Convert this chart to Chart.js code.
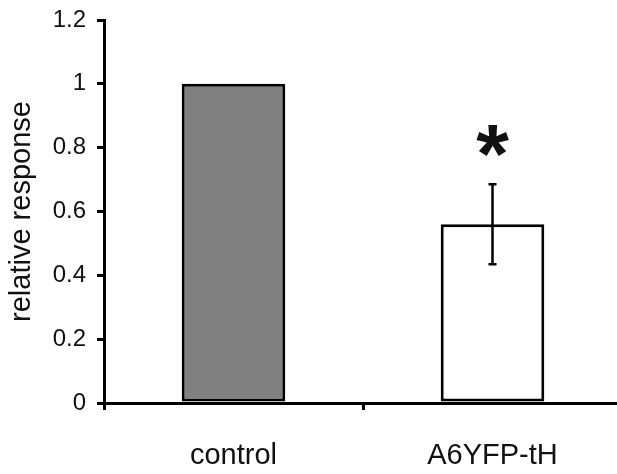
<!DOCTYPE html>
<html>
<head>
    <script src="https://cdn.jsdelivr.net/npm/chart.js@4.4.1/dist/chart.umd.min.js"></script>
    <style>
        html, body { margin: 0; padding: 0; overflow: hidden; background: #fff; }
        #wrap { width: 640px; height: 474px; }
    </style>
</head>
<body>
<div id="wrap">
    <canvas id="myChart"></canvas>
</div>

<script>
    const categories = ["control", "A6YFP-tH"];
    const values = [1.0, 0.56];
    const errors = [0, 0.125];
    const barColors = ["#808080", "#ffffff"];
    const yTicks = [0, 0.2, 0.4, 0.6, 0.8, 1.0, 1.2];
    const sigMarks = ["", "*"];
    const sigMarkY = 0.82;

    const font = "'Liberation Sans', Arial, sans-serif";

    // error bars + significance star
    const extras = {
        id: "extras",
        afterDatasetsDraw(chart) {
            const ctx = chart.ctx;
            const meta = chart.getDatasetMeta(0);
            const y = chart.scales.y;
            ctx.save();
            ctx.strokeStyle = "#000";
            ctx.lineWidth = 2.5;
            meta.data.forEach((bar, i) => {
                if (errors[i] > 0) {
                    const x = bar.x;
                    const top = y.getPixelForValue(values[i] + errors[i]);
                    const bot = y.getPixelForValue(values[i] - errors[i]);
                    ctx.beginPath();
                    ctx.moveTo(x, top); ctx.lineTo(x, bot);
                    ctx.moveTo(x - 4, top); ctx.lineTo(x + 4, top);
                    ctx.moveTo(x - 4, bot); ctx.lineTo(x + 4, bot);
                    ctx.stroke();
                }
                if (sigMarks[i]) {
                    ctx.font = "bold 84px " + font;
                    ctx.fillStyle = "#111";
                    ctx.textAlign = "center";
                    ctx.textBaseline = "alphabetic";
                    const m = ctx.measureText(sigMarks[i]);
                    const cy = y.getPixelForValue(sigMarkY);
                    const off = (m.actualBoundingBoxAscent - m.actualBoundingBoxDescent) / 2;
                    ctx.fillText(sigMarks[i], bar.x, cy + off);
                }
            });
            ctx.restore();
        }
    };

    new Chart("myChart", {
        type: "bar",
        data: {
            labels: categories,
            datasets: [{
                data: values,
                backgroundColor: barColors,
                borderColor: "#000",
                borderWidth: 3,
                borderSkipped: false,
                barPercentage: 0.4,
                categoryPercentage: 1.0
            }]
        },
        options: {
            responsive: true,
            maintainAspectRatio: false,
            animation: false,
            layout: { padding: { top: 20, right: 18, left: 0, bottom: 0 } },
            plugins: { legend: { display: false }, tooltip: { enabled: false } },
            scales: {
                x: {
                    grid: { display: true, drawOnChartArea: false, drawTicks: true, tickLength: 7, color: "#000", lineWidth: 3, offset: true },
                    border: { display: true, color: "#000", width: 3 },
                    ticks: { color: "#111", padding: 29, font: { family: font, size: 29 } },
                    afterFit(scale) { scale.height = 71; }
                },
                y: {
                    min: 0,
                    max: 1.2,
                    afterBuildTicks(scale) { scale.ticks = yTicks.map(v => ({ value: v })); },
                    grid: { display: true, drawOnChartArea: false, drawTicks: true, tickLength: 7, color: "#000", lineWidth: 3 },
                    border: { display: true, color: "#000", width: 3 },
                    ticks: {
                        color: "#111",
                        padding: 11,
                        font: { family: font, size: 24 },
                        callback: v => String(+v.toFixed(1))
                    },
                    title: {
                        display: true,
                        text: "relative response",
                        color: "#111",
                        padding: { top: 5, bottom: 0 },
                        font: { family: font, size: 29 }
                    },
                    afterFit(scale) {
                        scale.width = 104;
                        scale.paddingTop = 0;
                        scale.paddingBottom = 0;
                    }
                }
            }
        },
        plugins: [extras]
    });
</script>
</body>
</html>
